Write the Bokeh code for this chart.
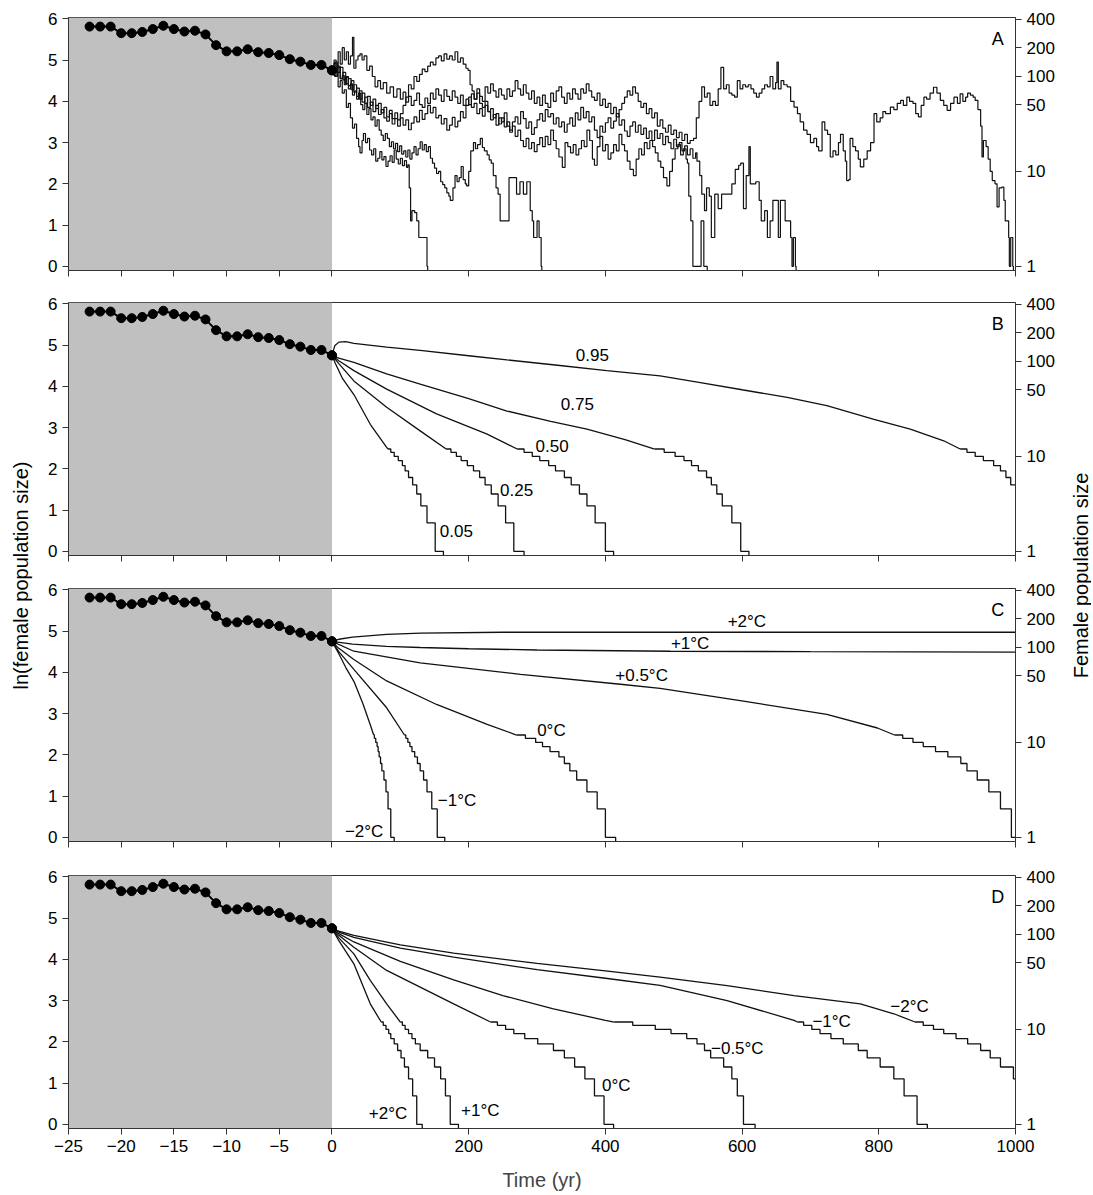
import math
from bokeh.plotting import figure
from bokeh.layouts import row, column
from bokeh.models import (Range1d, LinearAxis, FixedTicker, CustomJSTickFormatter,
                          BoxAnnotation, Label)
from bokeh.embed import file_html
from bokeh.resources import INLINE

# ---------------------------------------------------------------- data
FONT = "Liberation Sans"
K = 15.42  # the pre-0 segment of the time axis is stretched by this factor

X_TICKS_YR = [-25, -20, -15, -10, -5, 0, 200, 400, 600, 800, 1000]
Y_TICKS = [0, 1, 2, 3, 4, 5, 6]
RIGHT_TICKS_N = [1, 10, 50, 100, 200, 400]

# observed history (ln female population size), years -23 .. 0
hist_t = list(range(-23, 1))
hist_v = [5.81, 5.81, 5.81, 5.65, 5.65, 5.68, 5.75, 5.83, 5.75, 5.69, 5.71, 5.62,
          5.36, 5.21, 5.21, 5.26, 5.19, 5.17, 5.12, 5.02, 4.96, 4.88, 4.88, 4.75]

# Panel A: five stochastic trajectories (t, ln N)
a1 = [(0,4.75),(3,4.62),(6,4.7),(9,4.35),(12,4.5),(15,4.2),(18,4.28),(21,3.85),(24,3.95),
      (27,3.6),(30,3.35),(33,3.45),(36,3.1),(39,2.9),(41,2.75),(44,3.05),(46,3.22),(49,3.0),
      (52,3.1),(55,2.82),(58,2.7),(61,2.85),(64,2.55),(67,2.62),(70,2.78),(73,2.58),(76,2.66),
      (79,2.42),(82,2.55),(85,2.68),(88,2.52),(91,2.82),(94,2.6),(97,2.48),(100,2.62),
      (103,2.44),(106,2.56),(109,2.4),(111,2.46),(113,1.9),(115,1.1),(117,1.35),(121,1.3),
      (124,1.1),(127,0.7),(137,0.7),(139,0.0),(140,-0.5)]
a2 = [(0,4.75),(3,4.92),(6,4.7),(9,4.82),(12,4.55),(15,4.62),(18,4.4),(21,4.58),(24,4.3),
      (27,4.42),(30,4.15),(33,4.25),(36,4.05),(39,4.2),(42,3.92),(45,3.8),(48,3.95),(51,3.68),
      (54,3.82),(57,3.55),(60,3.62),(63,3.4),(66,3.55),(69,3.3),(72,3.18),(75,3.05),(78,3.22),
      (81,3.1),(84,2.9),(87,3.02),(90,2.85),(93,2.98),(96,2.78),(99,2.92),(102,2.72),(105,2.8),
      (108,2.65),(111,2.82),(114,2.6),(117,2.75),(120,2.9),(123,2.7),(126,2.85),(129,3.02),
      (132,2.82),(135,2.95),(138,2.78),(141,2.9),(144,2.62),(147,2.5),(150,2.38),(153,2.25),
      (156,2.3),(159,2.05),(162,1.98),(165,1.9),(168,1.78),(171,1.7),(173,1.6),(177,1.9),
      (180,2.2),(183,2.05),(186,2.15),(189,2.42),(192,2.1),(195,2.0),(197,1.95),(200,2.3),
      (203,2.8),(207,3.0),(210,2.85),(213,2.95),(217,3.1),(220,2.88),(223,2.8),(227,2.7),
      (230,2.58),(233,2.5),(236,2.2),(240,1.9),(243,1.75),(246,1.1),(256,1.1),(259,2.15),
      (265,2.15),(270,1.75),(275,2.05),(280,1.75),(285,2.05),(290,1.35),(293,1.1),(295,0.7),
      (300,1.1),(303,0.7),(305,0.7),(306,0.0),(307,-0.5)]
a3 = [(0,4.75),(4,4.95),(8,4.7),(12,4.82),(16,4.52),(20,4.6),(24,4.38),(28,4.5),(32,4.22),
      (36,4.32),(40,4.05),(44,4.2),(48,3.95),(52,4.12),(56,3.9),(60,4.05),(64,3.82),(68,3.95),
      (72,3.72),(76,3.85),(80,3.62),(84,3.78),(88,3.58),(92,3.72),(96,3.55),(100,3.7),
      (104,3.9),(108,4.1),(112,4.4),(116,4.3),(120,4.6),(124,4.48),(128,4.65),(132,4.78),
      (136,4.72),(140,4.85),(144,4.95),(148,4.88),(152,5.05),(156,5.1),(160,4.98),(164,5.15),
      (168,5.02),(172,5.1),(176,5.0),(180,5.2),(184,4.95),(188,5.05),(192,4.9),(196,4.8),
      (199,4.75),(202,4.4),(205,4.25),(208,4.05),(212,4.2),(216,3.95),(220,3.85),(224,4.0),
      (228,3.75),(232,3.82),(236,3.6),(240,3.7),(244,3.45),(248,3.6),(252,3.38),(256,3.5),
      (260,3.25),(264,3.4),(268,3.15),(272,3.3),(276,3.05),(280,2.9),(284,3.1),(288,2.85),
      (292,3.0),(296,2.78),(300,2.95),(304,3.12),(308,2.9),(312,3.15),(316,2.95),(320,3.3),
      (324,3.05),(328,2.85),(332,2.65),(337,2.4),(341,3.0),(345,2.9),(349,2.75),(353,2.95),
      (357,2.7),(361,2.85),(365,3.05),(369,2.9),(373,3.3),(377,3.05),(381,2.6),(384,2.45),
      (388,2.9),(392,3.15),(396,2.8),(400,2.95),(404,2.6),(408,2.75),(412,2.95),(416,2.8),
      (420,3.2),(424,2.95),(428,2.8),(432,2.55),(436,2.35),(441,2.2),(445,2.6),(449,2.85),
      (453,2.7),(457,3.0),(461,2.85),(465,3.05),(469,2.9),(473,2.75),(477,2.55),(481,2.4),
      (485,2.15),(490,1.95),(494,2.3),(498,2.6),(502,2.85),(506,2.95),(510,2.7),(514,2.85),
      (518,2.6),(520,2.5),(522,1.7),(525,1.1),(528,0.0),(538,0.0),(540,1.1),(542,1.1),
      (544,0.0),(548,0.0),(549,-0.5)]
a4 = [(0,4.75),(4,4.6),(8,4.85),(12,4.55),(16,4.7),(20,4.42),(24,4.55),(28,4.28),(32,4.4),
      (36,4.12),(40,4.25),(44,3.98),(48,4.1),(52,3.85),(56,3.98),(60,3.75),(64,3.9),(68,3.68),
      (72,3.8),(76,3.6),(80,3.52),(84,3.7),(88,3.45),(92,3.58),(96,3.4),(100,3.6),(104,3.42),
      (108,3.55),(112,3.31),(116,3.47),(120,3.62),(124,3.5),(128,3.78),(132,3.56),(136,3.7),
      (140,3.9),(144,3.72),(148,3.85),(152,3.6),(156,3.66),(160,3.45),(164,3.58),(168,3.3),
      (172,3.42),(176,3.61),(180,3.38),(184,3.52),(188,3.75),(192,3.6),(196,3.9),(200,4.1),
      (204,3.85),(208,3.95),(212,3.7),(216,3.82),(220,3.64),(224,3.9),(228,3.75),(232,3.55),
      (236,3.68),(240,3.42),(244,3.6),(248,3.5),(252,3.72),(256,3.4),(260,3.3),(264,3.5),
      (268,3.62),(272,3.45),(276,3.75),(280,3.58),(284,3.35),(288,3.5),(292,3.2),(296,3.36),
      (300,3.55),(304,3.7),(308,3.52),(312,3.8),(316,3.62),(320,3.7),(324,3.45),(328,3.6),
      (332,3.38),(336,3.5),(340,3.25),(344,3.45),(348,3.6),(352,3.4),(356,3.72),(360,3.55),
      (364,3.85),(368,3.6),(372,3.75),(376,3.5),(380,3.62),(384,3.3),(388,3.12),(392,3.4),
      (396,3.25),(400,3.48),(404,3.6),(408,3.35),(412,3.52),(416,3.7),(420,3.42),(424,3.55),
      (428,3.28),(432,3.15),(436,3.4),(440,3.5),(444,3.25),(448,3.42),(452,3.2),(456,3.35),
      (460,3.1),(464,3.28),(468,3.05),(472,3.3),(476,3.1),(480,3.22),(484,2.95),(488,3.15),
      (492,3.0),(496,2.85),(500,3.08),(504,2.9),(508,3.0),(512,2.8),(516,2.92),(520,2.7),
      (524,2.85),(528,2.62),(532,2.75),(534,2.55),(538,2.2),(541,1.75),(545,1.35),(548,1.9),
      (552,1.7),(555,0.7),(558,0.7),(560,1.75),(565,1.4),(570,1.75),(580,1.75),(585,2.0),
      (590,2.35),(595,2.45),(598,2.5),(602,1.4),(606,2.2),(610,2.9),(612,2.0),(616,2.0),
      (620,2.05),(625,1.6),(628,1.1),(633,1.35),(637,0.7),(641,1.1),(645,1.6),(650,1.6),
      (653,0.7),(656,1.6),(660,1.6),(663,1.1),(668,1.1),(671,0.7),(673,0.0),(675,0.7),
      (677,0.7),(678,0.0),(679,-0.5)]
a5 = [(0,4.75),(3,5.0),(6,4.8),(9,5.2),(12,4.9),(15,5.3),(18,5.0),(21,5.2),(24,4.9),
      (27,5.1),(30,5.55),(32,4.8),(35,5.0),(38,5.1),(41,5.15),(44,5.0),(47,5.1),(51,4.75),
      (55,4.85),(59,4.6),(63,4.35),(67,4.5),(71,4.3),(75,4.45),(80,4.2),(85,4.35),(90,4.1),
      (95,4.3),(100,4.05),(104,4.22),(108,3.98),(112,4.12),(116,3.9),(120,4.02),(124,4.2),
      (128,3.92),(132,3.85),(136,4.08),(140,3.95),(144,4.2),(148,4.05),(152,4.3),(156,4.15),
      (160,4.0),(164,4.28),(168,4.12),(172,4.02),(176,4.25),(180,4.1),(184,3.95),(188,4.15),
      (192,3.9),(196,4.05),(200,3.92),(204,4.18),(208,4.05),(212,4.3),(216,4.12),(220,4.0),
      (224,4.35),(228,4.2),(232,4.42),(236,4.25),(240,4.1),(244,4.3),(248,4.15),(252,4.05),
      (256,4.3),(260,4.12),(264,4.25),(268,4.5),(272,4.3),(276,4.15),(280,4.4),(284,4.2),
      (288,4.05),(292,4.25),(296,3.95),(300,4.1),(304,3.9),(308,4.15),(312,3.95),(316,3.85),
      (320,4.2),(324,4.0),(328,4.25),(332,4.35),(336,4.1),(340,3.95),(344,4.2),(348,4.05),
      (352,4.3),(356,4.18),(360,4.05),(364,4.3),(368,4.2),(372,4.42),(376,4.25),(380,4.1),
      (384,4.02),(388,4.2),(392,3.9),(396,4.05),(400,3.85),(404,3.95),(408,3.7),(412,3.85),
      (416,3.62),(420,3.8),(424,3.95),(428,4.1),(432,4.25),(436,4.15),(440,4.35),(444,4.2),
      (448,4.0),(452,3.85),(456,3.95),(460,3.7),(464,3.82),(468,3.6),(472,3.72),(476,3.4),
      (480,3.55),(484,3.35),(488,3.25),(492,3.42),(496,3.2),(500,3.3),(504,3.12),(508,3.25),
      (512,3.05),(516,3.2),(520,2.98),(524,3.05),(529,3.1),(533,3.6),(537,4.0),(541,4.35),
      (545,4.1),(549,4.2),(553,3.9),(557,4.0),(561,3.9),(565,4.3),(569,4.82),(573,4.3),
      (577,4.4),(581,4.2),(585,4.15),(589,4.1),(593,4.5),(597,4.3),(601,4.4),(605,4.35),
      (609,4.4),(613,4.3),(617,4.2),(621,4.1),(625,4.2),(629,4.3),(633,4.4),(637,4.35),
      (641,4.6),(645,4.3),(649,4.45),(651,4.95),(653,4.3),(657,4.5),(661,4.4),(666,4.35),
      (671,4.0),(676,3.86),(681,3.7),(685,3.5),(690,3.3),(695,3.2),(700,3.0),(705,3.1),
      (709,2.9),(712,2.8),(717,3.5),(721,3.3),(725,3.2),(729,2.65),(733,2.8),(737,2.7),
      (741,3.0),(744,3.2),(748,2.8),(751,2.55),(753,2.08),(756,2.1),(758,3.1),(762,2.9),
      (766,2.8),(770,2.6),(773,2.41),(778,2.6),(783,2.8),(788,3.0),(793,3.7),(797,3.5),
      (802,3.6),(806,3.75),(810,3.7),(817,3.86),(822,3.8),(827,3.95),(832,4.02),(836,3.9),
      (841,4.1),(845,4.0),(850,3.95),(854,3.7),(858,3.62),(862,3.9),(866,4.1),(870,4.05),
      (875,4.2),(880,4.34),(885,4.2),(890,4.02),(895,3.9),(900,3.78),(905,3.95),(910,4.1),
      (915,3.95),(919,4.18),(923,4.0),(927,4.1),(930,4.2),(934,4.15),(938,4.1),(941,4.02),
      (945,3.8),(949,3.4),(951,2.65),(953,3.05),(957,2.9),(960,2.6),(963,2.3),(966,2.08),
      (970,2.0),(973,1.44),(976,1.9),(980,1.92),(983,1.6),(985,1.1),(988,1.1),(990,0.7),
      (991,0.0),(993,0.7),(995,0.7),(996,0.0),(997,-0.5)]
A_TRAJ = [a1, a2, a3, a4, a5]

# integer population levels ln(N), N = 12 .. 1, then extinction (below the axis)
LEV = [2.48, 2.40, 2.30, 2.20, 2.08, 1.95, 1.79, 1.61, 1.39, 1.10, 0.69, 0.0, -1.0]

# curves: smooth part (t, v) then the step times at which each level is reached
B_CURVES = {
    "0.05": ([0, 5, 15, 32, 56, 80, 82], [4.75, 4.55, 4.2, 3.8, 3.08, 2.52, 2.48],
             [82, 86, 91, 97, 103, 107, 112, 118, 124, 130, 139, 151, 163], LEV),
    "0.25": ([0, 10, 32, 80, 129, 167], [4.75, 4.55, 4.13, 3.49, 2.92, 2.48],
             [167, 174, 182, 189, 198, 207, 216, 224, 233, 243, 254, 266, 281], LEV),
    "0.50": ([0, 10, 32, 80, 153, 227, 271], [4.75, 4.62, 4.38, 3.93, 3.33, 2.84, 2.48],
             [271, 281, 293, 304, 317, 327, 340, 350, 362, 373, 385, 400, 412], LEV),
    "0.75": ([0, 10, 32, 80, 129, 200, 256, 320, 373, 430, 472],
             [4.75, 4.68, 4.58, 4.30, 4.05, 3.70, 3.40, 3.15, 2.96, 2.70, 2.48],
             [472, 486, 502, 515, 526, 536, 548, 555, 563, 571, 585, 598, 610], LEV),
    "0.95": ([0, 4, 10, 20, 32, 80, 129, 200, 256, 330, 402, 480, 539, 602, 666, 724, 793, 846, 895, 919],
             [4.75, 4.98, 5.07, 5.08, 5.04, 4.95, 4.87, 4.74, 4.64, 4.51, 4.38, 4.25, 4.09, 3.91, 3.73, 3.53, 3.20, 2.96, 2.68, 2.48],
             [919, 929, 941, 953, 968, 978, 986, 993, 1000], [2.48, 2.40, 2.30, 2.20, 2.08, 1.95, 1.79, 1.61, 1.61]),
}
B_LABELS = [("0.95", 381, 4.77), ("0.75", 359, 3.58), ("0.50", 322, 2.565),
            ("0.25", 270, 1.475), ("0.05", 182, 0.505)]

C_CURVES = {
    "+2": ([0, 10, 30, 80, 130, 250, 500, 750, 1000],
           [4.75, 4.8, 4.85, 4.92, 4.95, 4.97, 4.97, 4.97, 4.97], None, None),
    "+1": ([0, 30, 80, 129, 200, 300, 495, 700, 1000],
           [4.75, 4.68, 4.63, 4.60, 4.57, 4.54, 4.51, 4.50, 4.49], None, None),
    "+0.5": ([0, 32, 129, 276, 422, 480, 602, 724, 798, 823],
             [4.75, 4.51, 4.23, 3.95, 3.71, 3.61, 3.30, 2.98, 2.65, 2.48],
             [823, 835, 850, 865, 883, 901, 920, 929, 944, 961, 978, 994, 1000],
             [2.48, 2.40, 2.30, 2.20, 2.08, 1.95, 1.79, 1.61, 1.39, 1.10, 0.69, 0.0, 0.0]),
    "0": ([0, 10, 32, 80, 153, 227, 270], [4.75, 4.58, 4.31, 3.79, 3.22, 2.74, 2.48],
          [270, 283, 298, 308, 319, 332, 340, 348, 358, 373, 388, 400, 415], LEV),
    "-1": ([0, 10, 32, 80, 106], [4.75, 4.5, 4.07, 3.14, 2.48],
           [106, 108, 111, 114, 117, 121, 125, 129, 134, 139, 146, 154, 165], LEV),
    "-2": ([0, 10, 20, 32, 45, 56, 61], [4.75, 4.45, 4.12, 3.78, 3.25, 2.73, 2.48],
           [61, 62, 64, 66, 67.5, 69, 71, 73, 76, 79, 82, 86, 91], LEV),
}
C_LABELS = [("+2\u00b0C", 607, 5.23), ("+1\u00b0C", 524, 4.70), ("+0.5\u00b0C", 453, 3.92),
            ("0\u00b0C", 321, 2.59), ("\u22121\u00b0C", 183, 0.89), ("\u22122\u00b0C", 47, 0.14)]

D_CURVES = {
    "+2": ([0, 10, 32, 56, 72], [4.75, 4.45, 3.89, 2.92, 2.48],
           [72, 75, 79, 83, 86, 91, 96, 101, 106, 112, 118, 124, 132], LEV),
    "+1": ([0, 10, 32, 56, 80, 100], [4.75, 4.52, 4.13, 3.49, 2.92, 2.48],
           [100, 103, 107, 112, 117, 122, 129, 140, 150, 159, 166, 173, 185], LEV),
    "0": ([0, 10, 32, 80, 178, 232], [4.75, 4.58, 4.29, 3.73, 2.92, 2.48],
          [232, 242, 254, 266, 282, 301, 324, 340, 355, 370, 384, 398, 412], LEV),
    "-0.5": ([0, 10, 32, 100, 178, 250, 324, 400, 413],
             [4.75, 4.62, 4.42, 3.95, 3.50, 3.12, 2.80, 2.52, 2.48],
             [413, 440, 473, 496, 519, 534, 545, 554, 573, 585, 593, 602, 619], LEV),
    "-1": ([0, 10, 32, 100, 178, 300, 400, 480, 578, 676, 681],
           [4.75, 4.66, 4.53, 4.27, 4.05, 3.75, 3.54, 3.37, 3.0, 2.52, 2.48],
           [681, 690, 702, 714, 730, 748, 770, 783, 802, 822, 837, 856, 871], LEV),
    "-2": ([0, 10, 32, 100, 178, 300, 400, 480, 578, 676, 773, 822, 853],
           [4.75, 4.68, 4.58, 4.35, 4.15, 3.9, 3.72, 3.57, 3.36, 3.12, 2.92, 2.68, 2.48],
           [853, 865, 880, 895, 913, 930, 949, 963, 978, 997, 1000],
           [2.48, 2.40, 2.30, 2.20, 2.08, 1.95, 1.79, 1.61, 1.39, 1.10, 1.10]),
}
D_LABELS = [("\u22122\u00b0C", 845, 2.86), ("\u22121\u00b0C", 731, 2.49), ("\u22120.5\u00b0C", 593, 1.84),
            ("0\u00b0C", 416, 0.94), ("+1\u00b0C", 217, 0.33), ("+2\u00b0C", 82, 0.26)]

# ---------------------------------------------------------------- helpers
def tx(ts):
    return [t * K if t < 0 else t for t in ts]

XFMT = ("if (tick < -1) { return '\\u2212' + Math.round(-tick / %s).toString(); }"
        " return Math.round(tick).toString();" % K)

FRAME_W, FRAME_H = 947, 253
BORDERS = {"A": (17, 24), "B": (8, 25), "C": (8, 26), "D": (8, 66)}
INK = "#333333"


def style_axis(ax, size="17px"):
    ax.axis_line_color = INK
    ax.major_tick_line_color = INK
    ax.minor_tick_line_color = None
    ax.major_tick_out = 6
    ax.major_tick_in = 0
    ax.major_label_text_font = FONT
    ax.major_label_text_font_size = size
    ax.major_label_text_color = "black"
    ax.major_label_standoff = 5


def panel(letter, last):
    top, bot = BORDERS[letter]
    p = figure(frame_width=FRAME_W, frame_height=FRAME_H,
               x_range=Range1d(-25 * K, 1000), y_range=Range1d(-0.1, 6.03),
               output_backend="svg", toolbar_location=None,
               min_border_left=35, min_border_right=46,
               min_border_top=top, min_border_bottom=bot)
    p.grid.visible = False
    p.outline_line_color = INK
    p.background_fill_color = "white"
    p.border_fill_color = "white"
    p.add_layout(BoxAnnotation(left=-25 * K, right=0, fill_color="#c0c0c0", fill_alpha=1.0,
                               line_alpha=0, level="underlay"))

    xa = p.xaxis[0]
    xa.ticker = FixedTicker(ticks=tx(X_TICKS_YR))
    style_axis(xa)
    if last:
        xa.formatter = CustomJSTickFormatter(code=XFMT)
        xa.axis_label = "Time (yr)"
        xa.axis_label_text_font = FONT
        xa.axis_label_text_font_size = "20px"
        xa.axis_label_text_font_style = "normal"
        xa.axis_label_standoff = 14
    else:
        xa.formatter = CustomJSTickFormatter(code="return '';")
        xa.major_label_text_font_size = "0px"

    ya = p.yaxis[0]
    ya.ticker = FixedTicker(ticks=Y_TICKS)
    ya.formatter = CustomJSTickFormatter(code="return tick.toFixed(0);")
    style_axis(ya)

    ra = LinearAxis(ticker=FixedTicker(ticks=[math.log(n) for n in RIGHT_TICKS_N]),
                    formatter=CustomJSTickFormatter(code="return Math.round(Math.exp(tick)).toString();"))
    style_axis(ra)
    p.add_layout(ra, "right")

    p.line(tx(hist_t), hist_v, line_width=2, color="black")
    p.scatter(tx(hist_t), hist_v, size=9, color="black")

    p.add_layout(Label(x=974, y=5.52, text=letter, text_font=FONT, text_font_size="18px",
                       text_align="center", text_baseline="middle", text_color="black"))
    return p


def draw_curves(p, curves):
    for key, (st, sv, kt, kv) in curves.items():
        p.line(st, sv, line_width=1.3, color="#111111")
        if kt is not None:
            p.step(kt, kv, mode="after", line_width=1.3, color="#111111")


def add_labels(p, labels):
    for text, t, v in labels:
        p.add_layout(Label(x=t, y=v, text=text, text_font=FONT, text_font_size="17px",
                           text_align="center", text_baseline="middle", text_color="black"))


# ---------------------------------------------------------------- panels
pA = panel("A", False)
for tr in A_TRAJ:
    ts = [q[0] for q in tr]
    vs = [q[1] for q in tr]
    pA.step(ts, vs, mode="after", line_width=1.2, color="#111111")
pA.scatter(tx([0]), [hist_v[-1]], size=9, color="black")

pB = panel("B", False)
draw_curves(pB, B_CURVES)
add_labels(pB, B_LABELS)
pB.scatter(tx([0]), [hist_v[-1]], size=9, color="black")

pC = panel("C", False)
draw_curves(pC, C_CURVES)
add_labels(pC, C_LABELS)
pC.scatter(tx([0]), [hist_v[-1]], size=9, color="black")

pD = panel("D", True)
draw_curves(pD, D_CURVES)
add_labels(pD, D_LABELS)
pD.scatter(tx([0]), [hist_v[-1]], size=9, color="black")

# ---------------------------------------------------------------- side labels
H_TOTAL = sum(t + FRAME_H + b for t, b in BORDERS.values())


def label_fig(w, xc, text):
    f = figure(width=w, height=H_TOTAL, x_range=Range1d(0, w), y_range=Range1d(0, H_TOTAL),
               output_backend="svg", toolbar_location=None, min_border=0,
               x_axis_type=None, y_axis_type=None)
    f.outline_line_color = None
    f.background_fill_color = "white"
    f.border_fill_color = "white"
    f.add_layout(Label(x=xc, y=H_TOTAL - 575, text=text, angle=math.pi / 2,
                       text_align="center", text_baseline="middle", text_font=FONT,
                       text_font_size="20px", text_color="black"))
    return f


left = label_fig(33, 20, "ln(female population size)")
right = label_fig(30, 19, "Female population size")

layout = row(left, column(pA, pB, pC, pD), right)

with open("out.html", "w", encoding="utf-8") as fh:
    fh.write(file_html(layout, INLINE))
